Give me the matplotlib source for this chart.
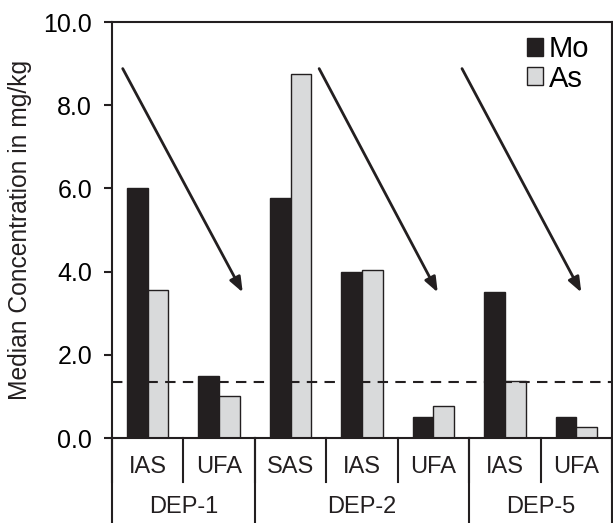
import matplotlib
matplotlib.use("Agg")
import matplotlib.pyplot as plt
from matplotlib.patches import Patch
import numpy as np

plt.rcParams['font.family'] = ['Liberation Sans', 'DejaVu Sans']

categories = ["IAS", "UFA", "SAS", "IAS", "UFA", "IAS", "UFA"]
groups = ["DEP-1", "DEP-2", "DEP-5"]
group_sizes = [2, 3, 2]
mo = [6.0, 1.5, 5.77, 4.0, 0.5, 3.51, 0.5]
as_ = [3.56, 1.01, 8.75, 4.05, 0.78, 1.38, 0.27]
threshold = 1.34
# arrows: (x_start, y_start, x_end, y_end) in data units
arrows = [(-0.35, 8.88, 1.33, 3.5), (2.4, 8.88, 4.06, 3.5), (4.4, 8.88, 6.07, 3.5)]
yticks = [0, 2, 4, 6, 8, 10]

W, H = 613, 523
fig = plt.figure(figsize=(W/100, H/100), dpi=100)
ax = fig.add_axes([112/W, (H-438)/H, 500/W, 416/H])

x = np.arange(len(categories))
bw = 0.29
ax.bar(x - bw/2, mo, bw, color='#231f20', edgecolor='#231f20', linewidth=1.0, label='Mo')
ax.bar(x + bw/2, as_, bw, color='#d9dadb', edgecolor='#231f20', linewidth=1.0, label='As')

ax.axhline(threshold, color='#231f20', linestyle=(0, (5, 3.5)), linewidth=1.5, zorder=3)

for (x0, y0, x1, y1) in arrows:
    ax.annotate('', xy=(x1, y1), xytext=(x0, y0),
                arrowprops=dict(arrowstyle='-|>,head_length=0.9,head_width=0.35',
                                color='#231f20', lw=2.0, shrinkA=0, shrinkB=0))

ax.set_xlim(-0.5, len(categories) - 0.5)
ax.set_ylim(0, 10)
ax.set_yticks(yticks)
ax.set_yticklabels([f"{v:.1f}" for v in yticks])
ax.tick_params(axis='y', direction='out', length=5.8, width=1.5, labelsize=18, pad=8.5, color='#231f20')
ax.set_xticks([])
for s in ax.spines.values():
    s.set_linewidth(1.5)
    s.set_color('#231f20')

ax.set_ylabel("Median Concentration in mg/kg", fontsize=17.7, labelpad=8, color='#231f20')

tr = ax.get_xaxis_transform()
# category labels and minor dividers
for i, c in enumerate(categories):
    ax.text(i, -0.069, c, transform=tr, ha='center', va='center', fontsize=17, color='#231f20')
for i in range(len(categories) + 1):
    ax.plot([i - 0.5, i - 0.5], [0, -0.106], transform=tr, color='#231f20', lw=1.5, clip_on=False)
# group labels and dividers
start = 0
bounds = [0]
for g, n in zip(groups, group_sizes):
    center = start + (n - 1) / 2
    ax.text(center, -0.167, g, transform=tr, ha='center', va='center', fontsize=17, color='#231f20')
    start += n
    bounds.append(start)
for b in bounds:
    ax.plot([b - 0.5, b - 0.5], [0, -0.21], transform=tr, color='#231f20', lw=1.5, clip_on=False)

handles = [Patch(facecolor='#231f20', edgecolor='#231f20', label='Mo'),
           Patch(facecolor='#d9dadb', edgecolor='#231f20', label='As')]
ax.legend(handles=handles, loc='upper left', bbox_to_anchor=(0.829, 0.968), frameon=False,
          fontsize=21, handlelength=0.57, handleheight=0.57, handletextpad=0.2,
          labelspacing=0.05, borderaxespad=0.0, borderpad=0.0)

fig.savefig("out.png", dpi=100)
